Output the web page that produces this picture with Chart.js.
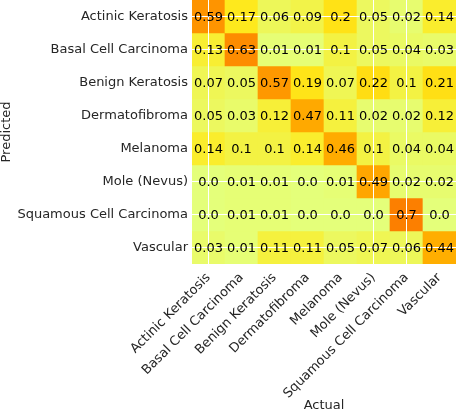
<!DOCTYPE html>
<html>
<head>
<meta charset="utf-8">
<script src="https://cdn.jsdelivr.net/npm/chart.js@4/dist/chart.umd.min.js"></script>
<style>
  html, body { margin: 0; padding: 0; background: #fff; }
  #wrap { width: 456px; height: 412px; }
</style>
</head>
<body>
<div id="wrap"><canvas id="myChart" width="456" height="412"></canvas></div>
<script>
// Classes (rows = predicted, columns = actual)
const classes = ['Actinic Keratosis', 'Basal Cell Carcinoma', 'Benign Keratosis', 'Dermatofibroma',
                 'Melanoma', 'Mole (Nevus)', 'Squamous Cell Carcinoma', 'Vascular'];

const rowActinic   = [0.59, 0.17, 0.06, 0.09, 0.2,  0.05, 0.02, 0.14];
const rowBasal     = [0.13, 0.63, 0.01, 0.01, 0.1,  0.05, 0.04, 0.03];
const rowBenign    = [0.07, 0.05, 0.57, 0.19, 0.07, 0.22, 0.1,  0.21];
const rowDermato   = [0.05, 0.03, 0.12, 0.47, 0.11, 0.02, 0.02, 0.12];
const rowMelanoma  = [0.14, 0.1,  0.1,  0.14, 0.46, 0.1,  0.04, 0.04];
const rowMole      = [0.0,  0.01, 0.01, 0.0,  0.01, 0.49, 0.02, 0.02];
const rowSquamous  = [0.0,  0.01, 0.01, 0.0,  0.0,  0.0,  0.7,  0.0];
const rowVascular  = [0.03, 0.01, 0.11, 0.11, 0.05, 0.07, 0.06, 0.44];

const matrix = [rowActinic, rowBasal, rowBenign, rowDermato, rowMelanoma, rowMole, rowSquamous, rowVascular];

// which grid lines show up in the original (the rest got lost in the raster)
const xGridShown = [true, false, false, false, false, true, true, false];
const yGridShown = [true, true, false, false, false, true, true, true];

// Wistia colormap
const wistia = [[228, 255, 122], [255, 232, 26], [255, 189, 0], [255, 160, 0], [252, 127, 0]];
const allVals = matrix.flat();
const vmin = Math.min(...allVals);
const vmax = Math.max(...allVals);

function colorFor(v) {
    let t = (v - vmin) / (vmax - vmin);
    t = Math.max(0, Math.min(1, t)) * (wistia.length - 1);
    const i = Math.min(Math.floor(t), wistia.length - 2);
    const f = t - i;
    const a = wistia[i], b = wistia[i + 1];
    const c = a.map((x, k) => Math.round(x + (b[k] - x) * f));
    return 'rgb(' + c.join(',') + ')';
}

function fmt(v) {
    return Number.isInteger(v) ? v.toFixed(1) : String(v);
}

const FONT = 'DejaVu Sans';

const datasets = matrix.map((row, r) => ({
    label: classes[r],
    data: row.map(() => [r, r + 1]),
    values: row,
    backgroundColor: row.map(colorFor),
    borderWidth: 0,
    grouped: false,
    barPercentage: 1,
    categoryPercentage: 1
}));

// Draw the numbers on top of each cell
const cellText = {
    id: 'cellText',
    afterDraw(chart) {
        const ctx = chart.ctx;
        ctx.save();
        ctx.font = '13px "' + FONT + '"';
        ctx.fillStyle = '#000';
        ctx.textAlign = 'center';
        ctx.textBaseline = 'middle';
        chart.data.datasets.forEach((ds, i) => {
            chart.getDatasetMeta(i).data.forEach((bar, j) => {
                const p = bar.getCenterPoint();
                ctx.fillText(fmt(ds.values[j]), p.x, p.y + 1);
            });
        });
        ctx.restore();
    }
};

const ctx = document.getElementById('myChart').getContext('2d');
const myChart = new Chart(ctx, {
    type: 'bar',
    data: { labels: classes, datasets: datasets },
    options: {
        responsive: false,
        animation: false,
        layout: { padding: 0 },
        plugins: { legend: { display: false }, tooltip: { enabled: false } },
        scales: {
            x: {
                border: { display: false },
                grid: {
                    z: 1, offset: false, lineWidth: 1, drawTicks: false,
                    color: (c) => xGridShown[c.index] ? '#ffffff' : 'rgba(255,255,255,0)'
                },
                ticks: {
                    autoSkip: false, minRotation: 45, maxRotation: 45, padding: 6,
                    color: '#262626', font: { family: FONT, size: 13 }
                },
                title: {
                    display: true, text: 'Actual', color: '#262626',
                    font: { family: FONT, size: 13, lineHeight: 1 }, padding: { top: 0, bottom: 0 }
                },
                afterFit(scale) {
                    scale.height = 148;
                    scale.paddingLeft = 0;
                    scale.paddingRight = 0;
                }
            },
            y: {
                type: 'linear',
                min: 0, max: 8, reverse: true,
                border: { display: false },
                grid: {
                    z: 1, lineWidth: 1, drawTicks: false,
                    color: (c) => yGridShown[c.index] ? '#ffffff' : 'rgba(255,255,255,0)'
                },
                afterBuildTicks(scale) {
                    scale.ticks = classes.map((c, i) => ({ value: i + 0.5 }));
                },
                ticks: {
                    padding: 4, color: '#262626', font: { family: FONT, size: 13 },
                    callback: (v) => classes[Math.floor(v)]
                },
                title: {
                    display: true, text: 'Predicted', color: '#262626',
                    font: { family: FONT, size: 13, lineHeight: 1 }, padding: { top: 0, bottom: 0 }
                },
                afterFit(scale) {
                    scale.width = 192;
                    scale.paddingTop = 0;
                    scale.paddingBottom = 0;
                }
            }
        }
    },
    plugins: [cellText]
});
</script>
</body>
</html>
